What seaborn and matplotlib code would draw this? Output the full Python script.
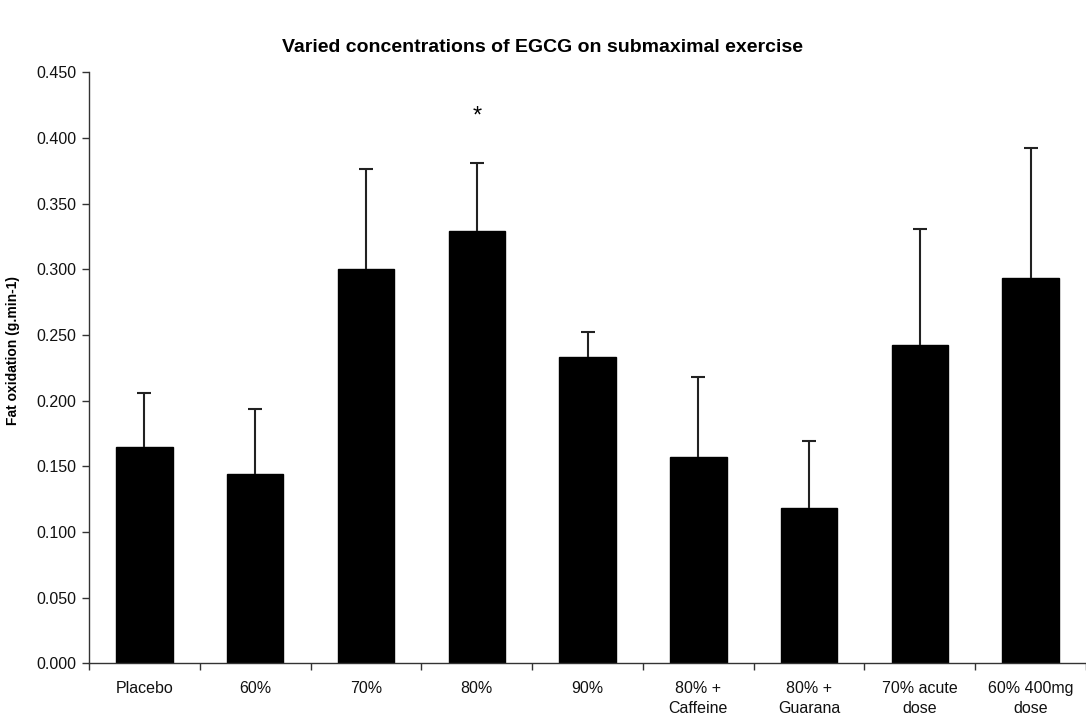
import matplotlib
matplotlib.use("Agg")
import matplotlib.pyplot as plt
import seaborn as sns
import pandas as pd
import numpy as np

# Fat oxidation during submaximal exercise, by EGCG condition
conditions = ["Placebo", "60%", "70%", "80%", "90%", "80% +\nCaffeine",
              "80% +\nGuarana", "70% acute\ndose", "60% 400mg\ndose"]
fat_oxidation = [0.165, 0.144, 0.300, 0.329, 0.233, 0.157, 0.118, 0.242, 0.293]
sd = [0.041, 0.050, 0.076, 0.052, 0.019, 0.061, 0.051, 0.089, 0.099]
y_ticks = [0.000, 0.050, 0.100, 0.150, 0.200, 0.250, 0.300, 0.350, 0.400, 0.450]
significant = ["80%"]
marker_level = 0.416

sns.set_theme(style="white")
plt.rcParams["font.family"] = ["Liberation Sans", "DejaVu Sans"]
plt.rcParams["text.color"] = "black"
plt.rcParams["axes.labelcolor"] = "black"

df = pd.DataFrame({"condition": conditions, "fat": fat_oxidation})

fig = plt.figure(figsize=(10.86, 7.17), dpi=100)
ax = fig.add_axes([0.082, 0.0749, 0.918, 0.8243])

sns.barplot(data=df, x="condition", y="fat", color="black", width=0.51,
            saturation=1, errorbar=None, ax=ax)
for p in ax.patches:
    p.set_edgecolor("black")

# upward-only error bars
x = np.arange(len(conditions))
_, caps, _ = ax.errorbar(x, fat_oxidation, yerr=[np.zeros(len(sd)), sd],
                         fmt="none", ecolor="#222222", elinewidth=1.5,
                         capsize=5, capthick=1.5)
caps[0].set_visible(False)

for cond in significant:
    i = conditions.index(cond)
    ax.text(i, marker_level, "*", ha="center", va="center", fontsize=17,
            color="black")

ax.set_xlim(-0.5, len(conditions) - 0.5)
ax.set_ylim(0, 0.45)
ax.set_yticks(y_ticks)
ax.set_yticklabels([f"{v:.3f}" for v in y_ticks])
ax.set_xticks(x)
ax.set_xticklabels(conditions, linespacing=1.35)
ax.set_xticks(np.arange(-0.5, len(conditions), 1.0), minor=True)

ax.tick_params(axis="x", which="major", length=0, pad=13, labelsize=11.5,
               labelcolor="#111111")
ax.tick_params(axis="x", which="minor", length=5, width=1, color="#333333",
               direction="out", bottom=True)
ax.tick_params(axis="y", length=5, width=1, color="#333333", direction="out",
               left=True, labelsize=11.5, labelcolor="#111111", pad=4)

ax.set_xlabel("")
ax.set_ylabel("Fat oxidation (g.min-1)", fontsize=10, fontweight="bold",
              color="black")
ax.yaxis.set_label_coords(-0.069, 0.53)
sns.despine(ax=ax, top=True, right=True)
for side in ("left", "bottom"):
    ax.spines[side].set_color("#333333")
    ax.spines[side].set_linewidth(1.0)

fig.text(0.5, 0.934, "Varied concentrations of EGCG on submaximal exercise",
         fontsize=14, fontweight="bold", ha="center", va="center",
         color="black")

fig.savefig("out.png", dpi=100, facecolor="white")
